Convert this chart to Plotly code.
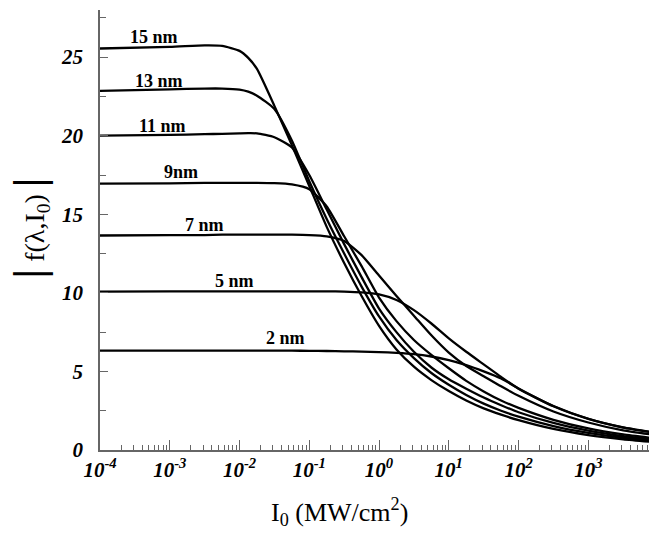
import plotly.graph_objects as go

# log10 of incident intensity I0 (MW/cm^2) at which each curve is sampled
log_i0 = [-4, -3, -2.5, -2.25, -2, -1.875, -1.75, -1.5, -1.25, -1, -0.75, -0.5,
          -0.25, 0, 0.25, 0.5, 0.75, 1, 1.25, 1.5, 1.75, 2, 2.5, 3, 3.5, 3.88]

f_15nm = [25.55, 25.65, 25.75, 25.72, 25.4, 24.95, 24.25, 21.9, 19.4, 16.8, 14.2, 11.9,
          9.8, 7.9, 6.4, 5.3, 4.45, 3.75, 3.15, 2.65, 2.25, 1.9, 1.34, 0.95, 0.68, 0.53]
f_13nm = [22.85, 22.95, 23.0, 23.0, 22.93, 22.8, 22.55, 21.7, 19.7, 17.1, 14.7, 12.5,
          10.4, 8.5, 7.0, 5.85, 4.9, 4.15, 3.5, 2.95, 2.5, 2.12, 1.52, 1.09, 0.78, 0.62]
f_11nm = [20.0, 20.05, 20.1, 20.12, 20.15, 20.16, 20.15, 19.9, 19.25, 17.5, 15.3, 13.1,
          11.0, 9.0, 7.5, 6.25, 5.25, 4.5, 3.9, 3.34, 2.85, 2.4, 1.72, 1.23, 0.88, 0.7]
f_9nm = [16.95, 16.97, 17.0, 17.0, 17.0, 17.0, 17.0, 16.98, 16.9, 16.6, 15.5, 13.6,
         11.7, 9.7, 8.2, 7.0, 6.05, 5.2, 4.4, 3.73, 3.15, 2.68, 1.92, 1.37, 0.99, 0.78]
f_7nm = [13.65, 13.67, 13.68, 13.7, 13.7, 13.7, 13.7, 13.7, 13.7, 13.68, 13.6, 13.3,
         12.4, 11.1, 9.8, 8.55, 7.3, 6.2, 5.35, 4.7, 4.05, 3.45, 2.45, 1.75, 1.25, 1.0]
f_5nm = [10.08, 10.1, 10.1, 10.1, 10.1, 10.1, 10.1, 10.1, 10.1, 10.1, 10.1, 10.08,
         10.03, 9.9, 9.55, 8.9, 8.05, 7.1, 6.25, 5.45, 4.65, 3.9, 2.78, 1.98, 1.43, 1.15]
f_2nm = [6.33, 6.33, 6.33, 6.33, 6.33, 6.33, 6.33, 6.32, 6.32, 6.31, 6.3, 6.28,
         6.26, 6.23, 6.18, 6.1, 5.95, 5.72, 5.4, 5.0, 4.55, 3.92, 2.8, 1.99, 1.44, 1.16]

series = [f_15nm, f_13nm, f_11nm, f_9nm, f_7nm, f_5nm, f_2nm]

# curve labels and where they sit (log10 I0, |f|)
size_labels = ["15 nm", "13 nm", "11 nm", "9nm", "7 nm", "5 nm", "2 nm"]
label_log_x = [-3.23, -3.16, -3.10, -2.84, -2.50, -2.07, -1.34]
label_y = [26.3, 23.5, 20.6, 17.7, 14.3, 10.75, 7.1]

x_tick_vals = [1e-4, 1e-3, 1e-2, 1e-1, 1e0, 1e1, 1e2, 1e3]
x_tick_text = ["10<sup>-4</sup>", "10<sup>-3</sup>", "10<sup>-2</sup>", "10<sup>-1</sup>",
               "10<sup>0</sup>", "10<sup>1</sup>", "10<sup>2</sup>", "10<sup>3</sup>"]
y_tick_vals = [0, 5, 10, 15, 20, 25]

SERIF = "Liberation Serif, Times New Roman, serif"
AXIS_GREY = "#666666"

x_vals = [10 ** v for v in log_i0]

fig = go.Figure()
for ys in series:
    fig.add_trace(go.Scatter(
        x=x_vals, y=ys, mode="lines",
        line=dict(color="black", width=2.3, shape="spline", smoothing=0.55),
        showlegend=False, hoverinfo="skip",
    ))

for txt, lx, ly in zip(size_labels, label_log_x, label_y):
    fig.add_annotation(
        x=lx, y=ly, xref="x", yref="y", text=f"<b>{txt}</b>", showarrow=False,
        font=dict(family=SERIF, size=18, color="black"),
        xanchor="center", yanchor="middle",
    )

# y-axis title: |f(λ,I0)|
fig.add_annotation(
    x=-0.128, y=0.505, xref="paper", yref="paper", textangle=-90,
    text="<span style='font-size:44px'><b>|</b></span> f(λ,I<sub>0</sub>) "
         "<span style='font-size:44px'><b>|</b></span>",
    showarrow=False, xanchor="center", yanchor="middle",
    font=dict(family=SERIF, size=28, color="black"),
)

# x-axis title
fig.add_annotation(
    x=0.437, y=-0.14, xref="paper", yref="paper",
    text="I<sub>0</sub> (MW/cm<sup>2</sup>)",
    showarrow=False, xanchor="center", yanchor="middle",
    font=dict(family=SERIF, size=26, color="black"),
)

fig.update_xaxes(
    type="log", range=[-4, 3.87],
    tickmode="array", tickvals=x_tick_vals, ticktext=x_tick_text,
    ticks="inside", ticklen=10, tickwidth=1, tickcolor=AXIS_GREY,
    minor=dict(ticks="inside", ticklen=5, tickwidth=1, tickcolor=AXIS_GREY,
               dtick="D1", showgrid=False),
    tickfont=dict(family=SERIF, size=21, color="black", weight="bold", style="italic"),
    showline=True, linecolor=AXIS_GREY, linewidth=1.5,
    showgrid=False, zeroline=False, mirror=False,
)
fig.update_yaxes(
    range=[0, 28],
    tickmode="array", tickvals=y_tick_vals,
    ticks="inside", ticklen=8, tickwidth=1, tickcolor=AXIS_GREY,
    minor=dict(ticks="inside", ticklen=6, tickwidth=1, tickcolor=AXIS_GREY,
               dtick=2.5, showgrid=False),
    tickfont=dict(family=SERIF, size=21, color="black", weight="bold", style="italic"),
    ticklabelstandoff=11,
    showline=True, linecolor=AXIS_GREY, linewidth=1.5,
    showgrid=False, zeroline=False, mirror=False,
)

fig.update_layout(
    width=649, height=535,
    margin=dict(l=100, r=0, t=10, b=85),
    paper_bgcolor="white", plot_bgcolor="white",
)

fig.write_html("out.html")
